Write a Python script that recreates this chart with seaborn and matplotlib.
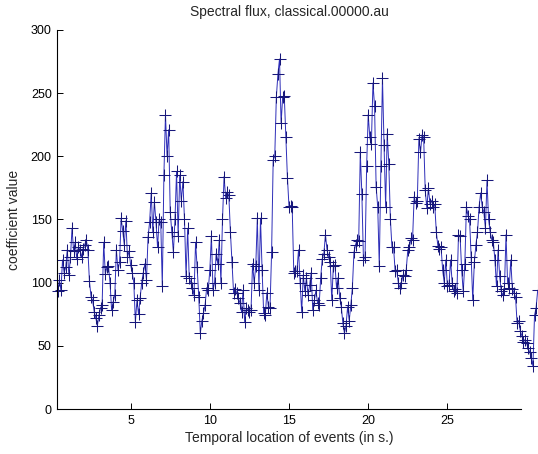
import numpy as np
import pandas as pd
import matplotlib
matplotlib.use("Agg")
import matplotlib.pyplot as plt
import seaborn as sns

# spectral flux per frame (one value every 0.1 s from 0.4 s)
start_time = 0.4
frame_step = 0.1
flux = [
    93, 102, 94, 118, 108, 112, 126, 106, 120, 143,     # 0.4 - 1.3
    125, 132, 119, 128, 126, 120, 127, 130, 134, 126,   # 1.4 - 2.3
    101, 89, 86, 77, 72, 66, 74, 80, 82, 132,           # 2.4 - 3.3
    107, 112, 113, 100, 78, 85, 90, 126, 110, 116,      # 3.4 - 4.3
    151, 141, 130, 149, 120, 125, 114, 108, 100, 69,    # 4.4 - 5.3
    86, 75, 88, 100, 108, 115, 102, 136, 148, 171,      # 5.4 - 6.3
    140, 164, 148, 128, 150, 148, 97, 185, 233, 200,    # 6.4 - 7.3
    221, 156, 140, 124, 150, 188, 137, 185, 165, 180,   # 7.4 - 8.3
    150, 105, 143, 104, 100, 96, 90, 132, 112, 89,      # 8.4 - 9.3
    60, 70, 76, 82, 96, 94, 110, 137, 94, 100,          # 9.4 - 10.3
    123, 115, 134, 100, 150, 184, 167, 172, 169, 140,   # 10.4 - 11.3
    116, 92, 95, 92, 88, 84, 77, 94, 69, 80,            # 11.4 - 12.3
    78, 77, 78, 115, 100, 113, 151, 94, 151, 110,       # 12.4 - 13.3
    76, 74, 92, 81, 80, 124, 197, 200, 247, 265,        # 13.4 - 14.3
    277, 226, 247, 248, 215, 183, 160, 161, 160, 108,   # 14.4 - 15.3
    109, 109, 126, 100, 77, 106, 93, 104, 90, 98,       # 15.4 - 16.3
    108, 78, 86, 94, 84, 82, 104, 119, 123, 138,        # 16.4 - 17.3
    126, 120, 116, 86, 113, 114, 96, 104, 88, 81,       # 17.4 - 18.3
    68, 60, 66, 81, 70, 82, 96, 124, 130, 134,          # 18.4 - 19.3
    133, 203, 170, 118, 120, 192, 233, 215, 210, 258,   # 19.4 - 20.3
    240, 176, 160, 113, 192, 262, 209, 160, 218, 194,   # 20.4 - 21.3
    150, 128, 128, 109, 110, 100, 96, 100, 106, 105,    # 21.4 - 22.3
    110, 126, 128, 135, 134, 168, 163, 165, 214, 203,   # 22.4 - 23.3
    217, 215, 173, 159, 175, 162, 165, 160, 162, 140,   # 23.4 - 24.3
    129, 127, 128, 110, 100, 118, 97, 98, 118, 100,     # 24.4 - 25.3
    93, 95, 92, 138, 137, 110, 93, 115, 160, 153,       # 25.4 - 26.3
    150, 120, 86, 116, 130, 140, 160, 171, 160, 156,    # 26.4 - 27.3
    143, 181, 150, 140, 134, 132, 118, 97, 126, 105,    # 27.4 - 28.3
    93, 90, 95, 138, 100, 96, 118, 95, 92, 89,          # 28.4 - 29.3
    68, 70, 62, 58, 53, 55, 52, 48, 45, 40,             # 29.4 - 30.3
    34, 74, 80, 94,                                     # 30.4 - 30.7
]
x_ticks = [5, 10, 15, 20, 25]
y_ticks = [0, 50, 100, 150, 200, 250, 300]

df = pd.DataFrame({
    "time": np.round(start_time + frame_step * np.arange(len(flux)), 2),
    "flux": flux,
})

sns.set_style("white")
plt.rcParams["font.family"] = ["Liberation Sans", "DejaVu Sans"]

fig = plt.figure(figsize=(5.38, 4.54), dpi=100)
ax = fig.add_axes([0.1065, 0.0991, 0.862, 0.835])

sns.lineplot(data=df, x="time", y="flux", ax=ax, estimator=None, sort=False,
             color="#2e2eb8", linewidth=0.7, marker="+", markersize=9,
             markeredgewidth=0.75, markeredgecolor="#17177a", clip_on=False)

ax.set_xlim(0.37, 29.65)
ax.set_ylim(0, 300)
ax.set_xticks(x_ticks)
ax.set_yticks(y_ticks)

for side in ["top", "right"]:
    ax.spines[side].set_visible(False)
for side in ["left", "bottom"]:
    ax.spines[side].set_color("black")
    ax.spines[side].set_linewidth(0.8)

ax.tick_params(direction="in", length=4, width=0.7, colors="black",
               labelsize=9, pad=4, left=True, bottom=True)

ax.set_title("Spectral flux, classical.00000.au", fontsize=10, pad=10)
ax.set_xlabel("Temporal location of events (in s.)", fontsize=10, labelpad=3)
ax.set_ylabel("coefficient value", fontsize=10, labelpad=7)

fig.savefig("out.png", dpi=100)
